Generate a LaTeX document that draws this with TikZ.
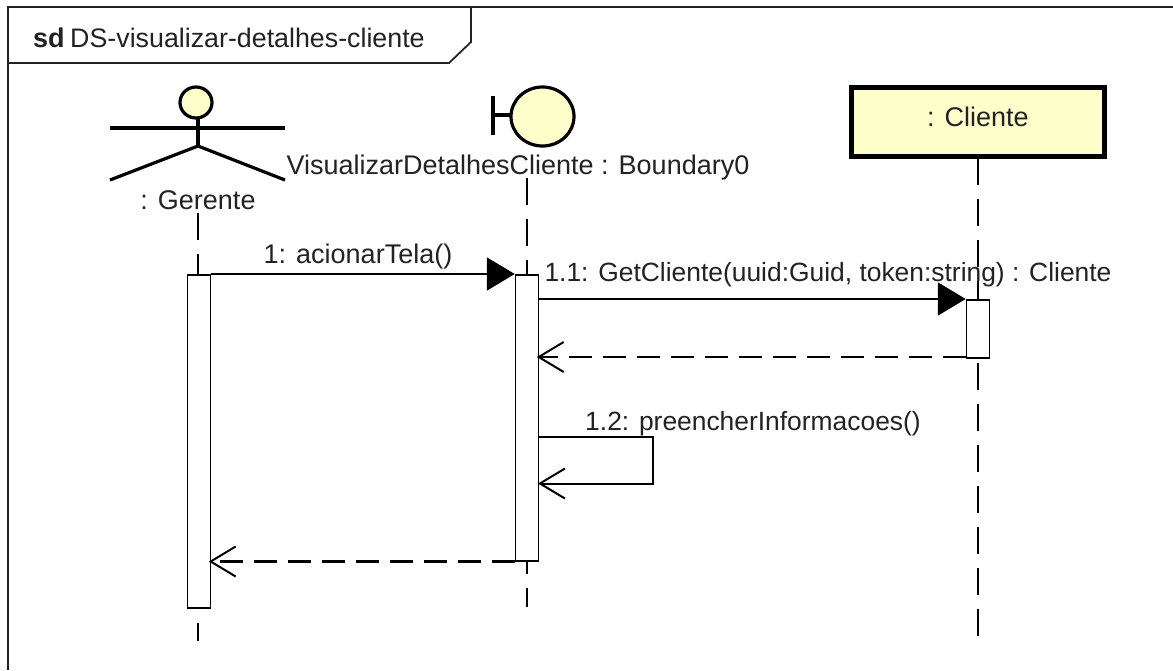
\documentclass[tikz,border=0pt]{standalone}
\usepackage{fontspec}
\setmainfont{Liberation Sans}
\usetikzlibrary{arrows.meta}
\definecolor{pale}{HTML}{FFFFCC}
\definecolor{ink}{HTML}{222222}
\tikzset{
  lbl/.style = {inner sep = 0, text = ink, font = \fontsize{27}{30}\selectfont},
  msglbl/.style = {inner sep = 0, text = ink, font = \fontsize{26.4}{30}\selectfont},
  frameline/.style = {draw = ink, line width = 1.8pt},
  figure/.style = {draw = black, line width = 3.2pt},
  lifeline/.style = {draw = black, line width = 2pt, dash pattern = on 27pt off 14pt},
  activation/.style = {draw = black, fill = white, line width = 1.5pt, anchor = north, inner sep = 0, minimum width = 23pt},
  call/.style = {draw = black, line width = 2pt, -{Triangle[length = 28pt, width = 33pt]}},
  reply/.style = {draw = black, line width = 2.2pt, dash pattern = on 23pt off 11pt, shorten > = -2.5pt, -{Straight Barb[length = 25pt, width = 30pt, line width = 2pt]}},
  selfcall/.style = {draw = black, line width = 2pt, -{Straight Barb[length = 25pt, width = 30pt, line width = 2pt]}}
}
\begin{document}
\begin{tikzpicture}[x = 1pt, y = -1pt]
  \useasboundingbox (0, 0) rectangle (1173, 670);
  \draw [frameline] (8, 670) -- (8, 7) -- (1173, 7);
  \draw [frameline] (8, 63) -- (449, 63) -- (471, 42) -- (471, 7);
  \node (sd) [lbl, anchor = west, font = \fontsize{27}{30}\selectfont\bfseries] at (33, 38) {sd};
  \node (title) [lbl, anchor = west, font = \fontsize{26.8}{30}\selectfont] at (70, 38) {DS-visualizar-detalhes-cliente};

  \draw [figure, fill = pale] (196, 102.5) ellipse (16 and 15.5);
  \draw [figure] (198, 118) -- (198, 146);
  \draw [figure] (110, 128) -- (285, 128);
  \foreach \x in {110, 285}
  {
    \draw [figure] (198, 146) -- (\x, 180);
  }
  \node (gerente) [lbl] at (198, 200) {: Gerente};

  \draw [figure, fill = pale] (542.5, 116.5) ellipse (31.5 and 29.5);
  \draw [figure] (493, 96) -- (493, 135);
  \draw [figure] (493, 115) -- (511, 115);
  \node (boundary) [lbl] at (518, 168) {VisualizarDetalhesCliente : Boundary0};

  \node (cliente) [draw = black, fill = pale, line width = 5pt, minimum width = 253pt, minimum height = 69pt] at (977.5, 122) {};
  \node (clienteName) [lbl] at (978, 117) {: Cliente};

  \coordinate (gerenteEnd) at (198, 641);
  \coordinate (boundaryEnd) at (527, 607);
  \coordinate (clienteEnd) at (978, 640);
  \draw [lifeline] (198, 213) -- (gerenteEnd);
  \draw [lifeline] (527, 178) -- (boundaryEnd);
  \draw [lifeline] (978, 158) -- (clienteEnd);

  \node (gerenteAct) [activation, minimum height = 333pt] at (199, 274) {};
  \node (boundaryAct) [activation, minimum height = 286pt] at (527, 274) {};
  \node (clienteAct) [activation, minimum height = 58pt] at (978, 299) {};

  \coordinate (selfStart) at (538, 436.5);
  \coordinate (selfEnd) at (538, 483.5);

  \draw [call] (gerenteAct.north east) -- (boundaryAct.north west);
  \draw [call] (clienteAct.north west -| boundaryAct.east) -- (clienteAct.north west);
  \draw [reply] ([yshift = 1.5pt] clienteAct.south west) -- ([yshift = 1.5pt] clienteAct.south west -| boundaryAct.east);
  \draw [selfcall] (selfStart) -- ++(115, 0) |- (selfEnd);
  \draw [reply] (boundaryAct.south west) -- (boundaryAct.south west -| gerenteAct.east);

  \node (acionar) [lbl] at (358, 257) {1: acionarTela()};
  \node (getcliente) [msglbl] at (828, 275) {1.1: GetCliente(uuid:Guid, token:string) : Cliente};
  \node (preencher) [msglbl] at (753, 424) {1.2: preencherInformacoes()};
\end{tikzpicture}
\end{document}
